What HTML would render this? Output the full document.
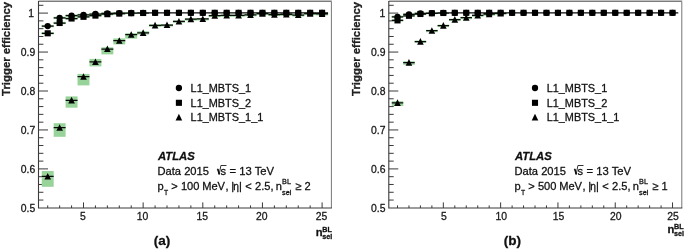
<!DOCTYPE html>
<html><head><meta charset="utf-8"><title>Trigger efficiency</title>
<style>html,body{margin:0;padding:0;background:#fff}svg{display:block}text{stroke:#111;stroke-width:0.28px;stroke-linejoin:round}.pl{filter:blur(0.35px)}</style>
</head><body>
<svg width="685" height="249" viewBox="0 0 685 249">
<rect width="685" height="249" fill="#fff"/>
<g class="pl">
<rect x="38.5" y="0" width="293.40" height="1.2" fill="#c6c6c6"/>
<path d="M38.5 1.45H331.4V208.0" fill="none" stroke="#666" stroke-width="0.9"/>
<path d="M38.5 0.95V208.0H331.9" fill="none" stroke="#3a3a3a" stroke-width="1.1"/>
<path d="M38.5 5.31h4.9 M38.5 13.10h9.5 M38.5 20.89h4.9 M38.5 28.68h4.9 M38.5 36.47h4.9 M38.5 44.26h4.9 M38.5 52.05h9.5 M38.5 59.84h4.9 M38.5 67.63h4.9 M38.5 75.42h4.9 M38.5 83.21h4.9 M38.5 91.00h9.5 M38.5 98.79h4.9 M38.5 106.58h4.9 M38.5 114.37h4.9 M38.5 122.16h4.9 M38.5 129.95h9.5 M38.5 137.74h4.9 M38.5 145.53h4.9 M38.5 153.32h4.9 M38.5 161.11h4.9 M38.5 168.90h9.5 M38.5 176.69h4.9 M38.5 184.48h4.9 M38.5 192.27h4.9 M38.5 200.06h4.9" fill="none" stroke="#3a3a3a" stroke-width="1"/>
<path d="M47.71 208.0v-2.6 M59.64 208.0v-2.6 M71.57 208.0v-2.6 M83.50 208.0v-5.6 M95.43 208.0v-2.6 M107.36 208.0v-2.6 M119.29 208.0v-2.6 M131.22 208.0v-2.6 M143.15 208.0v-5.6 M155.08 208.0v-2.6 M167.01 208.0v-2.6 M178.94 208.0v-2.6 M190.87 208.0v-2.6 M202.80 208.0v-5.6 M214.73 208.0v-2.6 M226.66 208.0v-2.6 M238.59 208.0v-2.6 M250.52 208.0v-2.6 M262.45 208.0v-5.6 M274.38 208.0v-2.6 M286.31 208.0v-2.6 M298.24 208.0v-2.6 M310.17 208.0v-2.6 M322.10 208.0v-5.6" fill="none" stroke="#3a3a3a" stroke-width="1"/>
<rect x="41.75" y="171.00" width="11.93" height="15.80" fill="#98d49a"/>
<rect x="53.67" y="123.20" width="11.93" height="13.60" fill="#98d49a"/>
<rect x="65.60" y="96.40" width="11.93" height="11.30" fill="#98d49a"/>
<rect x="77.53" y="73.90" width="11.93" height="11.50" fill="#98d49a"/>
<rect x="89.47" y="58.90" width="11.93" height="7.50" fill="#98d49a"/>
<rect x="101.39" y="47.30" width="11.93" height="7.10" fill="#98d49a"/>
<rect x="113.32" y="38.40" width="11.93" height="6.00" fill="#98d49a"/>
<rect x="125.25" y="33.20" width="11.93" height="5.40" fill="#98d49a"/>
<rect x="137.19" y="31.30" width="11.93" height="3.20" fill="#98d49a"/>
<rect x="149.11" y="24.40" width="11.93" height="2.40" fill="#98d49a"/>
<rect x="161.04" y="24.10" width="11.93" height="2.40" fill="#98d49a"/>
<rect x="172.97" y="20.50" width="11.93" height="2.40" fill="#98d49a"/>
<rect x="184.91" y="18.20" width="11.93" height="2.40" fill="#98d49a"/>
<rect x="196.84" y="18.00" width="11.93" height="2.40" fill="#98d49a"/>
<rect x="208.76" y="14.70" width="11.93" height="2.40" fill="#98d49a"/>
<rect x="220.69" y="14.40" width="11.93" height="2.40" fill="#98d49a"/>
<rect x="232.62" y="14.40" width="11.93" height="2.40" fill="#98d49a"/>
<rect x="244.55" y="13.90" width="11.93" height="2.40" fill="#98d49a"/>
<rect x="256.49" y="12.70" width="11.93" height="2.40" fill="#98d49a"/>
<rect x="268.42" y="13.70" width="11.93" height="2.40" fill="#98d49a"/>
<rect x="280.35" y="13.50" width="11.93" height="2.40" fill="#98d49a"/>
<rect x="292.28" y="14.10" width="11.93" height="2.40" fill="#98d49a"/>
<rect x="304.20" y="12.70" width="11.93" height="2.40" fill="#98d49a"/>
<rect x="316.14" y="13.00" width="11.93" height="2.40" fill="#98d49a"/>
<rect x="41.75" y="24.95" width="11.93" height="2.30" fill="#98d49a"/>
<rect x="53.67" y="16.75" width="11.93" height="2.30" fill="#98d49a"/>
<rect x="65.60" y="14.45" width="11.93" height="2.30" fill="#98d49a"/>
<rect x="77.53" y="13.75" width="11.93" height="2.30" fill="#98d49a"/>
<rect x="89.47" y="12.85" width="11.93" height="2.30" fill="#98d49a"/>
<rect x="101.39" y="12.45" width="11.93" height="1.70" fill="#98d49a"/>
<rect x="113.32" y="12.25" width="11.93" height="1.70" fill="#98d49a"/>
<rect x="125.25" y="12.15" width="11.93" height="1.70" fill="#98d49a"/>
<rect x="41.75" y="32.15" width="11.93" height="2.30" fill="#98d49a"/>
<rect x="53.67" y="21.85" width="11.93" height="2.30" fill="#98d49a"/>
<rect x="65.60" y="17.35" width="11.93" height="2.30" fill="#98d49a"/>
<rect x="77.53" y="15.65" width="11.93" height="2.30" fill="#98d49a"/>
<rect x="89.47" y="14.45" width="11.93" height="2.30" fill="#98d49a"/>
<rect x="101.39" y="13.05" width="11.93" height="2.30" fill="#98d49a"/>
<rect x="113.32" y="12.45" width="11.93" height="2.30" fill="#98d49a"/>
<rect x="125.25" y="12.35" width="11.93" height="1.70" fill="#98d49a"/>
<rect x="137.19" y="12.15" width="11.93" height="1.70" fill="#98d49a"/>
<path d="M41.75 26.10h11.93 M53.67 17.90h11.93 M65.60 15.60h11.93 M77.53 14.90h11.93 M89.47 14.00h11.93 M101.39 13.30h11.93 M113.32 13.10h11.93 M125.25 13.00h11.93 M137.19 12.80h11.93 M149.11 12.80h11.93 M161.04 12.80h11.93 M172.97 12.80h11.93 M184.91 12.80h11.93 M196.84 12.80h11.93 M208.76 12.80h11.93 M220.69 12.80h11.93 M232.62 12.80h11.93 M244.55 12.80h11.93 M256.49 12.80h11.93 M268.42 12.80h11.93 M280.35 12.80h11.93 M292.28 12.80h11.93 M304.20 12.80h11.93 M316.14 12.80h11.93 M41.75 33.30h11.93 M53.67 23.00h11.93 M65.60 18.50h11.93 M77.53 16.80h11.93 M89.47 15.60h11.93 M101.39 14.20h11.93 M113.32 13.60h11.93 M125.25 13.20h11.93 M137.19 13.00h11.93 M149.11 12.80h11.93 M161.04 12.80h11.93 M172.97 12.80h11.93 M184.91 12.80h11.93 M196.84 12.80h11.93 M208.76 12.80h11.93 M220.69 12.80h11.93 M232.62 12.80h11.93 M244.55 12.80h11.93 M256.49 12.80h11.93 M268.42 12.80h11.93 M280.35 12.80h11.93 M292.28 12.80h11.93 M304.20 12.80h11.93 M316.14 12.80h11.93 M41.75 176.40h11.93 M53.67 127.70h11.93 M65.60 100.30h11.93 M77.53 76.70h11.93 M89.47 61.90h11.93 M101.39 49.00h11.93 M113.32 40.70h11.93 M125.25 34.70h11.93 M137.19 32.80h11.93 M149.11 25.30h11.93 M161.04 25.00h11.93 M172.97 21.40h11.93 M184.91 19.10h11.93 M196.84 18.90h11.93 M208.76 15.60h11.93 M220.69 15.30h11.93 M232.62 15.30h11.93 M244.55 14.80h11.93 M256.49 13.60h11.93 M268.42 14.60h11.93 M280.35 14.40h11.93 M292.28 15.00h11.93 M304.20 13.60h11.93 M316.14 13.90h11.93" fill="none" stroke="#0a0a0a" stroke-width="1.25"/>
<path d="M47.71 172.90L51.01 179.50H44.41Z" fill="#000"/>
<path d="M59.64 124.20L62.94 130.80H56.34Z" fill="#000"/>
<path d="M71.57 96.80L74.87 103.40H68.27Z" fill="#000"/>
<path d="M83.50 73.20L86.80 79.80H80.20Z" fill="#000"/>
<path d="M95.43 58.40L98.73 65.00H92.13Z" fill="#000"/>
<path d="M107.36 45.50L110.66 52.10H104.06Z" fill="#000"/>
<path d="M119.29 37.20L122.59 43.80H115.99Z" fill="#000"/>
<path d="M131.22 31.20L134.52 37.80H127.92Z" fill="#000"/>
<path d="M143.15 29.30L146.45 35.90H139.85Z" fill="#000"/>
<path d="M155.08 21.80L158.38 28.40H151.78Z" fill="#000"/>
<path d="M167.01 21.50L170.31 28.10H163.71Z" fill="#000"/>
<path d="M178.94 17.90L182.24 24.50H175.64Z" fill="#000"/>
<path d="M190.87 15.60L194.17 22.20H187.57Z" fill="#000"/>
<path d="M202.80 15.40L206.10 22.00H199.50Z" fill="#000"/>
<path d="M214.73 12.10L218.03 18.70H211.43Z" fill="#000"/>
<path d="M226.66 11.80L229.96 18.40H223.36Z" fill="#000"/>
<path d="M238.59 11.80L241.89 18.40H235.29Z" fill="#000"/>
<path d="M250.52 11.30L253.82 17.90H247.22Z" fill="#000"/>
<path d="M262.45 10.10L265.75 16.70H259.15Z" fill="#000"/>
<path d="M274.38 11.10L277.68 17.70H271.08Z" fill="#000"/>
<path d="M286.31 10.90L289.61 17.50H283.01Z" fill="#000"/>
<path d="M298.24 11.50L301.54 18.10H294.94Z" fill="#000"/>
<path d="M310.17 10.10L313.47 16.70H306.87Z" fill="#000"/>
<path d="M322.10 10.40L325.40 17.00H318.80Z" fill="#000"/>
<rect x="44.66" y="30.25" width="6.1" height="6.1" fill="#000"/>
<rect x="56.59" y="19.95" width="6.1" height="6.1" fill="#000"/>
<rect x="68.52" y="15.45" width="6.1" height="6.1" fill="#000"/>
<rect x="80.45" y="13.75" width="6.1" height="6.1" fill="#000"/>
<rect x="92.38" y="12.55" width="6.1" height="6.1" fill="#000"/>
<rect x="104.31" y="11.15" width="6.1" height="6.1" fill="#000"/>
<rect x="116.24" y="10.55" width="6.1" height="6.1" fill="#000"/>
<rect x="128.17" y="10.15" width="6.1" height="6.1" fill="#000"/>
<rect x="140.10" y="9.95" width="6.1" height="6.1" fill="#000"/>
<rect x="152.03" y="9.75" width="6.1" height="6.1" fill="#000"/>
<rect x="163.96" y="9.75" width="6.1" height="6.1" fill="#000"/>
<rect x="175.89" y="9.75" width="6.1" height="6.1" fill="#000"/>
<rect x="187.82" y="9.75" width="6.1" height="6.1" fill="#000"/>
<rect x="199.75" y="9.75" width="6.1" height="6.1" fill="#000"/>
<rect x="211.68" y="9.75" width="6.1" height="6.1" fill="#000"/>
<rect x="223.61" y="9.75" width="6.1" height="6.1" fill="#000"/>
<rect x="235.54" y="9.75" width="6.1" height="6.1" fill="#000"/>
<rect x="247.47" y="9.75" width="6.1" height="6.1" fill="#000"/>
<rect x="259.40" y="9.75" width="6.1" height="6.1" fill="#000"/>
<rect x="271.33" y="9.75" width="6.1" height="6.1" fill="#000"/>
<rect x="283.26" y="9.75" width="6.1" height="6.1" fill="#000"/>
<rect x="295.19" y="9.75" width="6.1" height="6.1" fill="#000"/>
<rect x="307.12" y="9.75" width="6.1" height="6.1" fill="#000"/>
<rect x="319.05" y="9.75" width="6.1" height="6.1" fill="#000"/>
<circle cx="47.71" cy="26.10" r="3.15" fill="#000"/>
<circle cx="59.64" cy="17.90" r="3.15" fill="#000"/>
<circle cx="71.57" cy="15.60" r="3.15" fill="#000"/>
<circle cx="83.50" cy="14.90" r="3.15" fill="#000"/>
<circle cx="95.43" cy="14.00" r="3.15" fill="#000"/>
<circle cx="107.36" cy="13.30" r="3.15" fill="#000"/>
<circle cx="119.29" cy="13.10" r="3.15" fill="#000"/>
<circle cx="131.22" cy="13.00" r="3.15" fill="#000"/>
<circle cx="143.15" cy="12.80" r="3.15" fill="#000"/>
<circle cx="155.08" cy="12.80" r="3.15" fill="#000"/>
<circle cx="167.01" cy="12.80" r="3.15" fill="#000"/>
<circle cx="178.94" cy="12.80" r="3.15" fill="#000"/>
<circle cx="190.87" cy="12.80" r="3.15" fill="#000"/>
<circle cx="202.80" cy="12.80" r="3.15" fill="#000"/>
<circle cx="214.73" cy="12.80" r="3.15" fill="#000"/>
<circle cx="226.66" cy="12.80" r="3.15" fill="#000"/>
<circle cx="238.59" cy="12.80" r="3.15" fill="#000"/>
<circle cx="250.52" cy="12.80" r="3.15" fill="#000"/>
<circle cx="262.45" cy="12.80" r="3.15" fill="#000"/>
<circle cx="274.38" cy="12.80" r="3.15" fill="#000"/>
<circle cx="286.31" cy="12.80" r="3.15" fill="#000"/>
<circle cx="298.24" cy="12.80" r="3.15" fill="#000"/>
<circle cx="310.17" cy="12.80" r="3.15" fill="#000"/>
<circle cx="322.10" cy="12.80" r="3.15" fill="#000"/>
<text x="34.00" y="16.90" text-anchor="end" font-size="10.4" font-family="Liberation Sans, sans-serif" fill="#1a1a1a">1</text>
<text x="35.20" y="55.85" text-anchor="end" font-size="10.4" font-family="Liberation Sans, sans-serif" fill="#1a1a1a">0.9</text>
<text x="35.20" y="94.80" text-anchor="end" font-size="10.4" font-family="Liberation Sans, sans-serif" fill="#1a1a1a">0.8</text>
<text x="35.20" y="133.75" text-anchor="end" font-size="10.4" font-family="Liberation Sans, sans-serif" fill="#1a1a1a">0.7</text>
<text x="35.20" y="172.70" text-anchor="end" font-size="10.4" font-family="Liberation Sans, sans-serif" fill="#1a1a1a">0.6</text>
<text x="35.20" y="211.65" text-anchor="end" font-size="10.4" font-family="Liberation Sans, sans-serif" fill="#1a1a1a">0.5</text>
<text x="82.90" y="219.9" text-anchor="middle" font-size="10.4" font-family="Liberation Sans, sans-serif" fill="#222">5</text>
<text x="142.55" y="219.9" text-anchor="middle" font-size="10.4" font-family="Liberation Sans, sans-serif" fill="#222">10</text>
<text x="202.20" y="219.9" text-anchor="middle" font-size="10.4" font-family="Liberation Sans, sans-serif" fill="#222">15</text>
<text x="261.85" y="219.9" text-anchor="middle" font-size="10.4" font-family="Liberation Sans, sans-serif" fill="#222">20</text>
<text x="321.50" y="219.9" text-anchor="middle" font-size="10.4" font-family="Liberation Sans, sans-serif" fill="#222">25</text>
<text transform="translate(9.50 1.8) rotate(-90)" text-anchor="end" font-size="11.36" font-weight="bold" font-family="Liberation Sans, sans-serif" fill="#222">Trigger efficiency</text>
<text x="315.70" y="235.70" font-size="11.2" font-weight="bold" font-family="Liberation Sans, sans-serif" fill="#111">n</text>
<text x="322.20" y="232.00" font-size="7.2" font-weight="bold" font-family="Liberation Sans, sans-serif" fill="#111">BL</text>
<text x="322.20" y="238.90" font-size="7.2" font-weight="bold" font-family="Liberation Sans, sans-serif" fill="#111">sel</text>
<circle cx="178.90" cy="88" r="3.15" fill="#000"/>
<rect x="175.85" y="99.75" width="6.1" height="6.1" fill="#000"/>
<path d="M178.90 113.80L182.20 120.40H175.60Z" fill="#000"/>
<text x="190.60" y="91.70" font-size="10.9" font-family="Liberation Sans, sans-serif" fill="#111">L1_MBTS_1</text>
<text x="190.60" y="106.90" font-size="10.9" font-family="Liberation Sans, sans-serif" fill="#111">L1_MBTS_2</text>
<text x="190.60" y="121.30" font-size="10.9" font-family="Liberation Sans, sans-serif" fill="#111">L1_MBTS_1_1</text>
<text x="158.00" y="160.1" font-size="11.3" font-weight="bold" font-style="italic" font-family="Liberation Sans, sans-serif" fill="#111">ATLAS</text>
<text x="157.50" y="174.9" font-size="11.15"  font-family="Liberation Sans, sans-serif" fill="#111">Data 2015</text>
<path d="M216.90 169.5l0.9 -0.5l1.4 5.4l1.7 -8.9h5.6" fill="none" stroke="#111" stroke-width="0.85"/>
<path d="M217.80 169.0l1.4 5.4" fill="none" stroke="#111" stroke-width="1.5"/>
<text x="220.60" y="174.9" font-size="11.1"  font-family="Liberation Sans, sans-serif" fill="#111">s</text>
<text x="229.50" y="174.9" font-size="11.25"  font-family="Liberation Sans, sans-serif" fill="#111">= 13 TeV</text>
<text x="157.60" y="189.6" font-size="11.1"  font-family="Liberation Sans, sans-serif" fill="#111">p</text>
<text x="164.00" y="194.6" font-size="6.8"  font-family="Liberation Sans, sans-serif" fill="#111">T</text>
<text x="171.20" y="189.6" font-size="11.1"  font-family="Liberation Sans, sans-serif" fill="#111">&gt;</text>
<text x="180.90" y="189.6" font-size="11.1"  font-family="Liberation Sans, sans-serif" fill="#111">100</text>
<text x="202.20" y="189.6" font-size="11.1"  font-family="Liberation Sans, sans-serif" fill="#111">MeV</text>
<text x="225.60" y="189.6" font-size="11.1"  font-family="Liberation Sans, sans-serif" fill="#111">,</text>
<text x="231.20" y="189.6" font-size="11.1"  font-family="Liberation Sans, sans-serif" fill="#111">|</text>
<text x="233.20" y="189.6" font-size="10.2"  font-family="Liberation Sans, sans-serif" fill="#111">η</text>
<text x="239.00" y="189.6" font-size="11.1"  font-family="Liberation Sans, sans-serif" fill="#111">|</text>
<text x="245.20" y="189.6" font-size="11.1"  font-family="Liberation Sans, sans-serif" fill="#111">&lt;</text>
<text x="255.10" y="189.6" font-size="11.1"  font-family="Liberation Sans, sans-serif" fill="#111">2.5,</text>
<text x="275.70" y="189.6" font-size="11.1"  font-family="Liberation Sans, sans-serif" fill="#111">n</text>
<text x="282.10" y="184.0" font-size="7.3"  font-family="Liberation Sans, sans-serif" fill="#111">BL</text>
<text x="282.10" y="195.0" font-size="7.3"  font-family="Liberation Sans, sans-serif" fill="#111">sel</text>
<text x="295.20" y="189.6" font-size="11.1"  font-family="Liberation Sans, sans-serif" fill="#111">≥</text>
<text x="304.50" y="189.6" font-size="11.1"  font-family="Liberation Sans, sans-serif" fill="#111">2</text>
<text x="162.00" y="245.45" text-anchor="middle" font-size="13.55" font-weight="bold" font-family="Liberation Sans, sans-serif" fill="#111">(a)</text>
<rect x="388.8" y="0" width="293.50" height="1.2" fill="#c6c6c6"/>
<path d="M388.8 1.45H681.8V208.0" fill="none" stroke="#666" stroke-width="0.9"/>
<path d="M388.8 0.95V208.0H682.3" fill="none" stroke="#3a3a3a" stroke-width="1.1"/>
<path d="M388.8 5.31h4.9 M388.8 13.10h9.5 M388.8 20.89h4.9 M388.8 28.68h4.9 M388.8 36.47h4.9 M388.8 44.26h4.9 M388.8 52.05h9.5 M388.8 59.84h4.9 M388.8 67.63h4.9 M388.8 75.42h4.9 M388.8 83.21h4.9 M388.8 91.00h9.5 M388.8 98.79h4.9 M388.8 106.58h4.9 M388.8 114.37h4.9 M388.8 122.16h4.9 M388.8 129.95h9.5 M388.8 137.74h4.9 M388.8 145.53h4.9 M388.8 153.32h4.9 M388.8 161.11h4.9 M388.8 168.90h9.5 M388.8 176.69h4.9 M388.8 184.48h4.9 M388.8 192.27h4.9 M388.8 200.06h4.9" fill="none" stroke="#3a3a3a" stroke-width="1"/>
<path d="M397.50 208.0v-2.6 M408.96 208.0v-2.6 M420.42 208.0v-2.6 M431.88 208.0v-2.6 M443.34 208.0v-5.6 M454.80 208.0v-2.6 M466.26 208.0v-2.6 M477.72 208.0v-2.6 M489.18 208.0v-2.6 M500.64 208.0v-5.6 M512.10 208.0v-2.6 M523.56 208.0v-2.6 M535.02 208.0v-2.6 M546.48 208.0v-2.6 M557.94 208.0v-5.6 M569.40 208.0v-2.6 M580.86 208.0v-2.6 M592.32 208.0v-2.6 M603.78 208.0v-2.6 M615.24 208.0v-5.6 M626.70 208.0v-2.6 M638.16 208.0v-2.6 M649.62 208.0v-2.6 M661.08 208.0v-2.6 M672.54 208.0v-5.6" fill="none" stroke="#3a3a3a" stroke-width="1"/>
<rect x="391.77" y="101.20" width="11.46" height="4.80" fill="#98d49a"/>
<rect x="403.23" y="61.30" width="11.46" height="3.50" fill="#98d49a"/>
<rect x="414.69" y="40.50" width="11.46" height="2.30" fill="#98d49a"/>
<rect x="426.15" y="29.80" width="11.46" height="2.40" fill="#98d49a"/>
<rect x="437.61" y="24.70" width="11.46" height="2.40" fill="#98d49a"/>
<rect x="449.07" y="18.70" width="11.46" height="2.40" fill="#98d49a"/>
<rect x="460.53" y="16.80" width="11.46" height="2.40" fill="#98d49a"/>
<rect x="471.99" y="14.40" width="11.46" height="2.40" fill="#98d49a"/>
<rect x="483.45" y="13.30" width="11.46" height="2.40" fill="#98d49a"/>
<rect x="494.91" y="12.40" width="11.46" height="2.40" fill="#98d49a"/>
<rect x="391.77" y="15.65" width="11.46" height="2.30" fill="#98d49a"/>
<rect x="403.23" y="13.15" width="11.46" height="2.30" fill="#98d49a"/>
<rect x="414.69" y="12.55" width="11.46" height="1.70" fill="#98d49a"/>
<rect x="426.15" y="12.25" width="11.46" height="1.70" fill="#98d49a"/>
<rect x="391.77" y="19.25" width="11.46" height="2.30" fill="#98d49a"/>
<rect x="403.23" y="14.65" width="11.46" height="2.30" fill="#98d49a"/>
<rect x="414.69" y="12.85" width="11.46" height="2.30" fill="#98d49a"/>
<rect x="426.15" y="12.45" width="11.46" height="1.70" fill="#98d49a"/>
<rect x="437.61" y="12.15" width="11.46" height="1.70" fill="#98d49a"/>
<path d="M391.77 16.80h11.46 M403.23 14.30h11.46 M414.69 13.40h11.46 M426.15 13.10h11.46 M437.61 12.90h11.46 M449.07 12.80h11.46 M460.53 12.80h11.46 M471.99 12.80h11.46 M483.45 12.80h11.46 M494.91 12.80h11.46 M506.37 12.80h11.46 M517.83 12.80h11.46 M529.29 12.80h11.46 M540.75 12.80h11.46 M552.21 12.80h11.46 M563.67 12.80h11.46 M575.13 12.80h11.46 M586.59 12.80h11.46 M598.05 12.80h11.46 M609.51 12.80h11.46 M620.97 12.80h11.46 M632.43 12.80h11.46 M643.89 12.80h11.46 M655.35 12.80h11.46 M666.81 12.80h11.46 M391.77 20.40h11.46 M403.23 15.80h11.46 M414.69 14.00h11.46 M426.15 13.30h11.46 M437.61 13.00h11.46 M449.07 12.80h11.46 M460.53 12.80h11.46 M471.99 12.80h11.46 M483.45 12.80h11.46 M494.91 12.80h11.46 M506.37 12.80h11.46 M517.83 12.80h11.46 M529.29 12.80h11.46 M540.75 12.80h11.46 M552.21 12.80h11.46 M563.67 12.80h11.46 M575.13 12.80h11.46 M586.59 12.80h11.46 M598.05 12.80h11.46 M609.51 12.80h11.46 M620.97 12.80h11.46 M632.43 12.80h11.46 M643.89 12.80h11.46 M655.35 12.80h11.46 M666.81 12.80h11.46 M391.77 102.80h11.46 M403.23 62.60h11.46 M414.69 41.60h11.46 M426.15 30.70h11.46 M437.61 25.60h11.46 M449.07 19.60h11.46 M460.53 17.70h11.46 M471.99 15.30h11.46 M483.45 14.20h11.46 M494.91 13.30h11.46 M506.37 12.85h11.46 M517.83 12.85h11.46 M529.29 12.85h11.46 M540.75 12.85h11.46 M552.21 12.85h11.46 M563.67 12.85h11.46 M575.13 12.85h11.46 M586.59 12.85h11.46 M598.05 12.85h11.46 M609.51 12.85h11.46 M620.97 12.85h11.46 M632.43 12.85h11.46 M643.89 12.85h11.46 M655.35 12.85h11.46 M666.81 12.85h11.46" fill="none" stroke="#0a0a0a" stroke-width="1.25"/>
<path d="M397.50 99.30L400.80 105.90H394.20Z" fill="#000"/>
<path d="M408.96 59.10L412.26 65.70H405.66Z" fill="#000"/>
<path d="M420.42 38.10L423.72 44.70H417.12Z" fill="#000"/>
<path d="M431.88 27.20L435.18 33.80H428.58Z" fill="#000"/>
<path d="M443.34 22.10L446.64 28.70H440.04Z" fill="#000"/>
<path d="M454.80 16.10L458.10 22.70H451.50Z" fill="#000"/>
<path d="M466.26 14.20L469.56 20.80H462.96Z" fill="#000"/>
<path d="M477.72 11.80L481.02 18.40H474.42Z" fill="#000"/>
<path d="M489.18 10.70L492.48 17.30H485.88Z" fill="#000"/>
<path d="M500.64 9.80L503.94 16.40H497.34Z" fill="#000"/>
<rect x="394.45" y="17.35" width="6.1" height="6.1" fill="#000"/>
<rect x="405.91" y="12.75" width="6.1" height="6.1" fill="#000"/>
<rect x="417.37" y="10.95" width="6.1" height="6.1" fill="#000"/>
<rect x="428.83" y="10.25" width="6.1" height="6.1" fill="#000"/>
<rect x="440.29" y="9.95" width="6.1" height="6.1" fill="#000"/>
<rect x="451.75" y="9.75" width="6.1" height="6.1" fill="#000"/>
<rect x="463.21" y="9.75" width="6.1" height="6.1" fill="#000"/>
<rect x="474.67" y="9.75" width="6.1" height="6.1" fill="#000"/>
<rect x="486.13" y="9.75" width="6.1" height="6.1" fill="#000"/>
<rect x="497.59" y="9.75" width="6.1" height="6.1" fill="#000"/>
<rect x="509.05" y="9.75" width="6.1" height="6.1" fill="#000"/>
<rect x="520.51" y="9.75" width="6.1" height="6.1" fill="#000"/>
<rect x="531.97" y="9.75" width="6.1" height="6.1" fill="#000"/>
<rect x="543.43" y="9.75" width="6.1" height="6.1" fill="#000"/>
<rect x="554.89" y="9.75" width="6.1" height="6.1" fill="#000"/>
<rect x="566.35" y="9.75" width="6.1" height="6.1" fill="#000"/>
<rect x="577.81" y="9.75" width="6.1" height="6.1" fill="#000"/>
<rect x="589.27" y="9.75" width="6.1" height="6.1" fill="#000"/>
<rect x="600.73" y="9.75" width="6.1" height="6.1" fill="#000"/>
<rect x="612.19" y="9.75" width="6.1" height="6.1" fill="#000"/>
<rect x="623.65" y="9.75" width="6.1" height="6.1" fill="#000"/>
<rect x="635.11" y="9.75" width="6.1" height="6.1" fill="#000"/>
<rect x="646.57" y="9.75" width="6.1" height="6.1" fill="#000"/>
<rect x="658.03" y="9.75" width="6.1" height="6.1" fill="#000"/>
<rect x="669.49" y="9.75" width="6.1" height="6.1" fill="#000"/>
<circle cx="397.50" cy="16.80" r="3.15" fill="#000"/>
<circle cx="408.96" cy="14.30" r="3.15" fill="#000"/>
<circle cx="420.42" cy="13.40" r="3.15" fill="#000"/>
<circle cx="431.88" cy="13.10" r="3.15" fill="#000"/>
<circle cx="443.34" cy="12.90" r="3.15" fill="#000"/>
<circle cx="454.80" cy="12.80" r="3.15" fill="#000"/>
<circle cx="466.26" cy="12.80" r="3.15" fill="#000"/>
<circle cx="477.72" cy="12.80" r="3.15" fill="#000"/>
<circle cx="489.18" cy="12.80" r="3.15" fill="#000"/>
<circle cx="500.64" cy="12.80" r="3.15" fill="#000"/>
<circle cx="512.10" cy="12.80" r="3.15" fill="#000"/>
<circle cx="523.56" cy="12.80" r="3.15" fill="#000"/>
<circle cx="535.02" cy="12.80" r="3.15" fill="#000"/>
<circle cx="546.48" cy="12.80" r="3.15" fill="#000"/>
<circle cx="557.94" cy="12.80" r="3.15" fill="#000"/>
<circle cx="569.40" cy="12.80" r="3.15" fill="#000"/>
<circle cx="580.86" cy="12.80" r="3.15" fill="#000"/>
<circle cx="592.32" cy="12.80" r="3.15" fill="#000"/>
<circle cx="603.78" cy="12.80" r="3.15" fill="#000"/>
<circle cx="615.24" cy="12.80" r="3.15" fill="#000"/>
<circle cx="626.70" cy="12.80" r="3.15" fill="#000"/>
<circle cx="638.16" cy="12.80" r="3.15" fill="#000"/>
<circle cx="649.62" cy="12.80" r="3.15" fill="#000"/>
<circle cx="661.08" cy="12.80" r="3.15" fill="#000"/>
<circle cx="672.54" cy="12.80" r="3.15" fill="#000"/>
<text x="385.30" y="16.90" text-anchor="end" font-size="10.4" font-family="Liberation Sans, sans-serif" fill="#1a1a1a">1</text>
<text x="385.50" y="55.85" text-anchor="end" font-size="10.4" font-family="Liberation Sans, sans-serif" fill="#1a1a1a">0.9</text>
<text x="385.50" y="94.80" text-anchor="end" font-size="10.4" font-family="Liberation Sans, sans-serif" fill="#1a1a1a">0.8</text>
<text x="385.50" y="133.75" text-anchor="end" font-size="10.4" font-family="Liberation Sans, sans-serif" fill="#1a1a1a">0.7</text>
<text x="385.50" y="172.70" text-anchor="end" font-size="10.4" font-family="Liberation Sans, sans-serif" fill="#1a1a1a">0.6</text>
<text x="385.50" y="211.65" text-anchor="end" font-size="10.4" font-family="Liberation Sans, sans-serif" fill="#1a1a1a">0.5</text>
<text x="443.94" y="219.9" text-anchor="middle" font-size="10.4" font-family="Liberation Sans, sans-serif" fill="#222">5</text>
<text x="501.24" y="219.9" text-anchor="middle" font-size="10.4" font-family="Liberation Sans, sans-serif" fill="#222">10</text>
<text x="558.54" y="219.9" text-anchor="middle" font-size="10.4" font-family="Liberation Sans, sans-serif" fill="#222">15</text>
<text x="615.84" y="219.9" text-anchor="middle" font-size="10.4" font-family="Liberation Sans, sans-serif" fill="#222">20</text>
<text x="673.14" y="219.9" text-anchor="middle" font-size="10.4" font-family="Liberation Sans, sans-serif" fill="#222">25</text>
<text transform="translate(359.80 1.8) rotate(-90)" text-anchor="end" font-size="11.36" font-weight="bold" font-family="Liberation Sans, sans-serif" fill="#222">Trigger efficiency</text>
<text x="667.50" y="232.90" font-size="11.2" font-weight="bold" font-family="Liberation Sans, sans-serif" fill="#111">n</text>
<text x="674.00" y="229.20" font-size="7.2" font-weight="bold" font-family="Liberation Sans, sans-serif" fill="#111">BL</text>
<text x="674.00" y="236.10" font-size="7.2" font-weight="bold" font-family="Liberation Sans, sans-serif" fill="#111">sel</text>
<circle cx="535.00" cy="88" r="3.15" fill="#000"/>
<rect x="531.95" y="99.75" width="6.1" height="6.1" fill="#000"/>
<path d="M535.00 113.80L538.30 120.40H531.70Z" fill="#000"/>
<text x="546.70" y="91.70" font-size="10.9" font-family="Liberation Sans, sans-serif" fill="#111">L1_MBTS_1</text>
<text x="546.70" y="106.90" font-size="10.9" font-family="Liberation Sans, sans-serif" fill="#111">L1_MBTS_2</text>
<text x="546.70" y="121.30" font-size="10.9" font-family="Liberation Sans, sans-serif" fill="#111">L1_MBTS_1_1</text>
<text x="515.00" y="160.1" font-size="11.3" font-weight="bold" font-style="italic" font-family="Liberation Sans, sans-serif" fill="#111">ATLAS</text>
<text x="514.50" y="174.9" font-size="11.15"  font-family="Liberation Sans, sans-serif" fill="#111">Data 2015</text>
<path d="M573.90 169.5l0.9 -0.5l1.4 5.4l1.7 -8.9h5.6" fill="none" stroke="#111" stroke-width="0.85"/>
<path d="M574.80 169.0l1.4 5.4" fill="none" stroke="#111" stroke-width="1.5"/>
<text x="577.60" y="174.9" font-size="11.1"  font-family="Liberation Sans, sans-serif" fill="#111">s</text>
<text x="586.50" y="174.9" font-size="11.25"  font-family="Liberation Sans, sans-serif" fill="#111">= 13 TeV</text>
<text x="514.60" y="189.6" font-size="11.1"  font-family="Liberation Sans, sans-serif" fill="#111">p</text>
<text x="521.00" y="194.6" font-size="6.8"  font-family="Liberation Sans, sans-serif" fill="#111">T</text>
<text x="528.20" y="189.6" font-size="11.1"  font-family="Liberation Sans, sans-serif" fill="#111">&gt;</text>
<text x="537.90" y="189.6" font-size="11.1"  font-family="Liberation Sans, sans-serif" fill="#111">500</text>
<text x="559.20" y="189.6" font-size="11.1"  font-family="Liberation Sans, sans-serif" fill="#111">MeV</text>
<text x="582.60" y="189.6" font-size="11.1"  font-family="Liberation Sans, sans-serif" fill="#111">,</text>
<text x="588.20" y="189.6" font-size="11.1"  font-family="Liberation Sans, sans-serif" fill="#111">|</text>
<text x="590.20" y="189.6" font-size="10.2"  font-family="Liberation Sans, sans-serif" fill="#111">η</text>
<text x="596.00" y="189.6" font-size="11.1"  font-family="Liberation Sans, sans-serif" fill="#111">|</text>
<text x="602.20" y="189.6" font-size="11.1"  font-family="Liberation Sans, sans-serif" fill="#111">&lt;</text>
<text x="612.10" y="189.6" font-size="11.1"  font-family="Liberation Sans, sans-serif" fill="#111">2.5,</text>
<text x="632.70" y="189.6" font-size="11.1"  font-family="Liberation Sans, sans-serif" fill="#111">n</text>
<text x="639.10" y="184.0" font-size="7.3"  font-family="Liberation Sans, sans-serif" fill="#111">BL</text>
<text x="639.10" y="195.0" font-size="7.3"  font-family="Liberation Sans, sans-serif" fill="#111">sel</text>
<text x="652.20" y="189.6" font-size="11.1"  font-family="Liberation Sans, sans-serif" fill="#111">≥</text>
<text x="661.50" y="189.6" font-size="11.1"  font-family="Liberation Sans, sans-serif" fill="#111">1</text>
<text x="512.40" y="245.45" text-anchor="middle" font-size="13.55" font-weight="bold" font-family="Liberation Sans, sans-serif" fill="#111">(b)</text>
</g>
</svg>
</body></html>
